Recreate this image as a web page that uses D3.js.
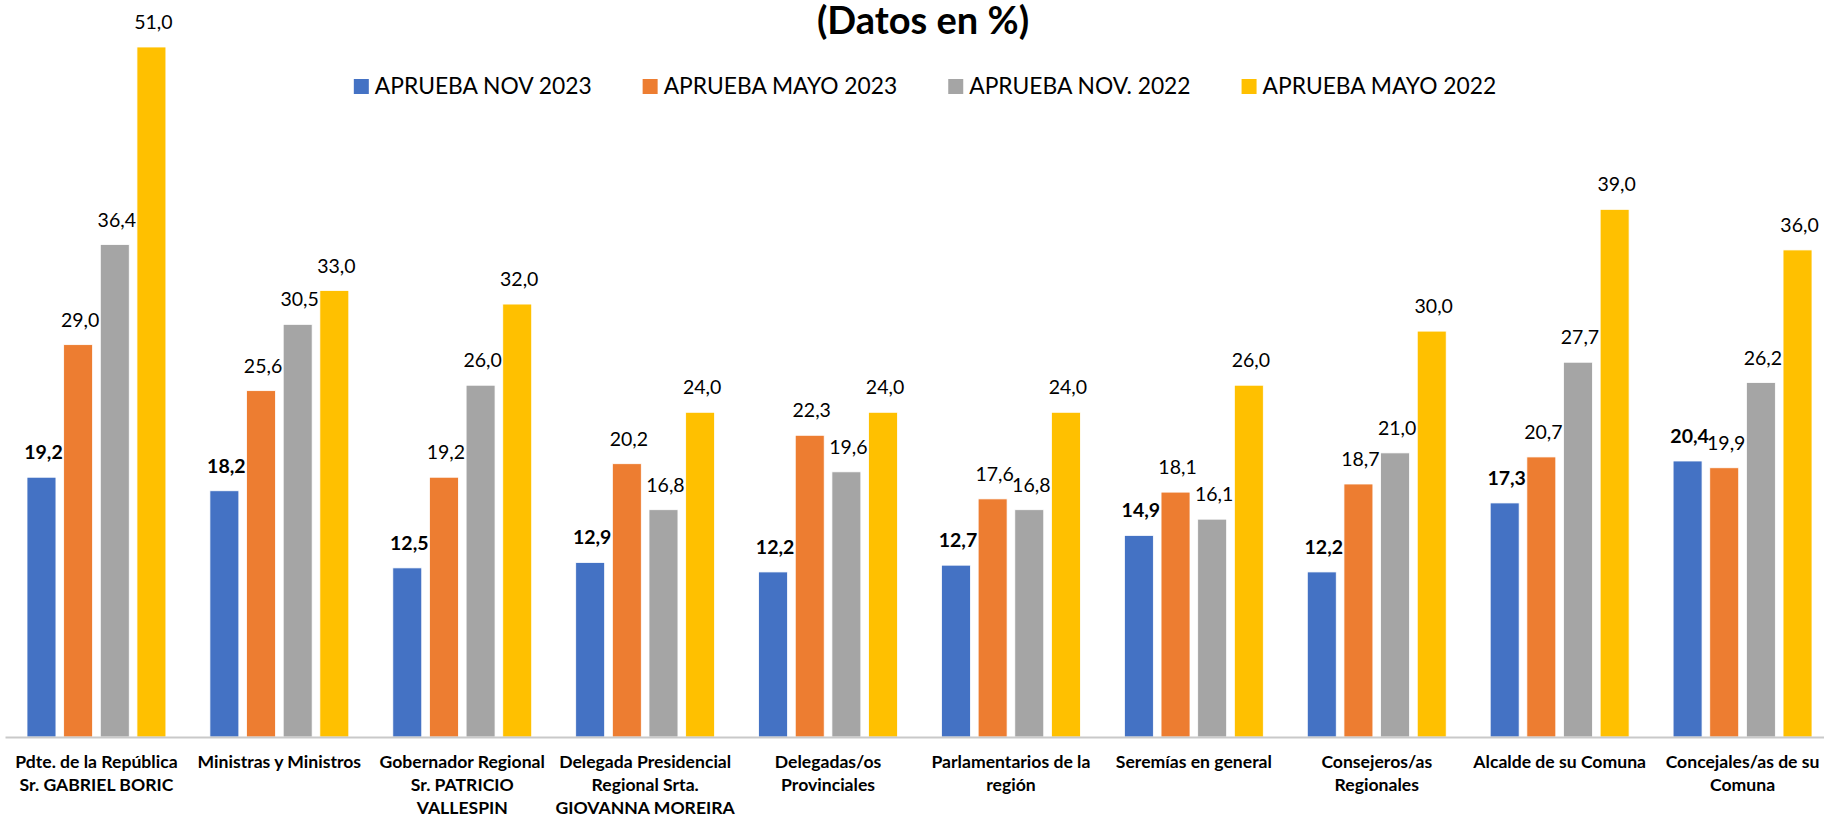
<!DOCTYPE html>
<html>
<head>
<meta charset="utf-8">
<script src="https://cdn.jsdelivr.net/npm/d3@7"></script>
<style>
  body { margin: 0; background: #fff; }
  svg { display: block; font-family: Lato, "Open Sans", sans-serif; }
</style>
</head>
<body>
<div id="chart"></div>
<script>
// categories (line breaks as in the original labels)
const categories = [
  'Pdte. de la República\nSr. GABRIEL BORIC',
  'Ministras y Ministros',
  'Gobernador Regional\nSr. PATRICIO\nVALLESPIN',
  'Delegada Presidencial\nRegional Srta.\nGIOVANNA MOREIRA',
  'Delegadas/os\nProvinciales',
  'Parlamentarios de la\nregión',
  'Seremías en general',
  'Consejeros/as\nRegionales',
  'Alcalde de su Comuna',
  'Concejales/as de su\nComuna'
]

const seriesNames = ['APRUEBA NOV 2023', 'APRUEBA MAYO 2023', 'APRUEBA NOV. 2022', 'APRUEBA MAYO 2022']
const seriesColors = ['#4472C4', '#ED7D31', '#A5A5A5', '#FFC000']

const apruebaNov2023 = [19.2, 18.2, 12.5, 12.9, 12.2, 12.7, 14.9, 12.2, 17.3, 20.4]
const apruebaMayo2023 = [29.0, 25.6, 19.2, 20.2, 22.3, 17.6, 18.1, 18.7, 20.7, 19.9]
const apruebaNov2022 = [36.4, 30.5, 26.0, 16.8, 19.6, 16.8, 16.1, 21.0, 27.7, 26.2]
const apruebaMayo2022 = [51.0, 33.0, 32.0, 24.0, 24.0, 24.0, 26.0, 30.0, 39.0, 36.0]

const seriesValues = [apruebaNov2023, apruebaMayo2023, apruebaNov2022, apruebaMayo2022]

const width = 1824
const height = 814

const svg = d3.select('#chart').append('svg')
  .attr('width', width)
  .attr('height', height)

// scales
const x0 = d3.scaleBand().domain(categories).range([5, 1834])
const x1 = d3.scaleBand().domain(d3.range(seriesNames.length))
  .range([22, x0.bandwidth() - 22])
  .paddingInner(0.21)
const y = d3.scaleLinear().domain([0, 51]).range([737, 47])

// title
svg.append('text')
  .attr('x', 923)
  .attr('y', 34)
  .attr('text-anchor', 'middle')
  .attr('font-size', 38)
  .attr('font-weight', 700)
  .attr('fill', '#000')
  .text('(Datos en %)')

// bars
const groups = svg.selectAll('g.group')
  .data(categories)
  .join('g')
  .attr('class', 'group')
  .attr('transform', d => 'translate(' + x0(d) + ',0)')

groups.selectAll('rect')
  .data((d, i) => seriesValues.map((vals, s) => ({ s: s, v: vals[i] })))
  .join('rect')
  .attr('x', d => x1(d.s))
  .attr('y', d => y(d.v))
  .attr('width', x1.bandwidth())
  .attr('height', d => y(0) - y(d.v))
  .attr('fill', d => seriesColors[d.s])
  .attr('stroke', '#fff')
  .attr('stroke-width', 0.8)

// value labels
groups.selectAll('text.val')
  .data((d, i) => seriesValues.map((vals, s) => ({ s: s, v: vals[i] })))
  .join('text')
  .attr('class', 'val')
  .attr('x', d => x1(d.s) + x1.bandwidth() / 2 + 2)
  .attr('y', d => y(d.v) - 18)
  .attr('text-anchor', 'middle')
  .attr('font-size', 19.5)
  .attr('font-weight', d => d.s === 0 ? 700 : 400)
  .attr('fill', '#000')
  .text(d => d3.format('.1f')(d.v).replace('.', ','))

// x axis
const xAxis = svg.append('g')
  .attr('transform', 'translate(0,' + y(0) + ')')
  .call(d3.axisBottom(x0).tickSize(0).tickSizeOuter(0))

xAxis.select('.domain')
  .attr('stroke', '#c9c9c9')
  .attr('stroke-width', 2)

xAxis.selectAll('.tick text').each(function(d) {
  const t = d3.select(this)
  t.text(null)
    .attr('y', 0)
    .attr('dy', null)
    .attr('font-family', 'Lato, sans-serif')
    .attr('font-size', 17.6)
    .attr('font-weight', 700)
    .attr('fill', '#000')
  d.split('\n').forEach((line, k) => {
    t.append('tspan')
      .attr('x', 0)
      .attr('y', 31 + k * 23)
      .text(line)
  })
})

// legend
const legend = svg.append('g')
const items = legend.selectAll('g')
  .data(seriesNames)
  .join('g')
items.append('rect')
  .attr('width', 15)
  .attr('height', 15)
  .attr('y', -15)
  .attr('fill', (d, i) => seriesColors[i])
items.append('text')
  .attr('x', 21)
  .attr('y', 0)
  .attr('font-size', 22.8)
  .attr('fill', '#000')
  .text(d => d)

let offset = 0
items.each(function() {
  const g = d3.select(this)
  g.attr('transform', 'translate(' + offset + ',0)')
  offset += 21 + g.select('text').node().getComputedTextLength() + 51
})
const legendWidth = offset - 51
legend.attr('transform', 'translate(' + (925 - legendWidth / 2) + ',94)')
</script>
</body>
</html>
